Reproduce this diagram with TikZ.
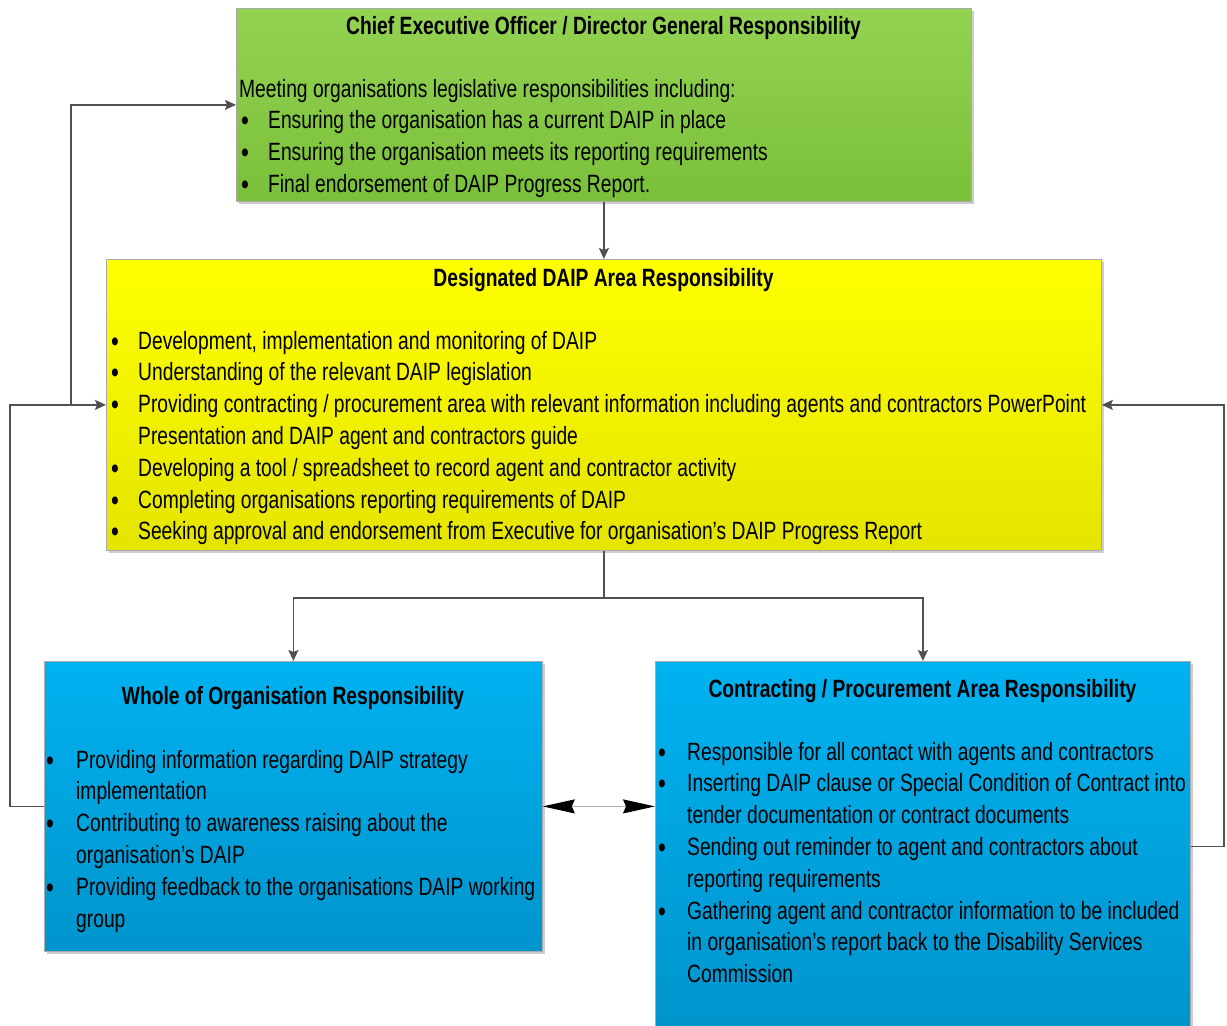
\documentclass[tikz,border=0pt]{standalone}
\usepackage{fontspec}
\setmainfont{Liberation Sans}[FakeStretch=0.77]
\usetikzlibrary{arrows.meta,calc}
\definecolor{conncol}{RGB}{80,80,80}
\definecolor{edgecol}{RGB}{170,170,170}
\definecolor{shadowcol}{RGB}{205,205,205}
\definecolor{greentop}{RGB}{148,210,82}
\definecolor{greenbot}{RGB}{122,192,58}
\definecolor{yellowtop}{RGB}{255,255,0}
\definecolor{yellowbot}{RGB}{228,228,0}
\definecolor{bluetop}{RGB}{0,178,240}
\definecolor{bluebot}{RGB}{0,148,204}
\newcommand\bodysize{\fontsize{25}{31.8}\selectfont}
\newcommand\bul{{\fontsize{29}{29}\selectfont\raisebox{-2pt}{\textbullet}}}
\newcommand\bitem[2]{\makebox[#1][l]{\bul}\mbox{#2}\par}
\newcommand\bcont[2]{\hspace*{#1}\mbox{#2}\par}
\tikzset{
  box/.style={draw=edgecol, line width=0.8pt, anchor=north west, inner sep=0pt},
  boxshadow/.style={fill=shadowcol, draw=none},
  ttl/.style={inner sep=0pt, anchor=base, font=\bfseries\bodysize},
  txt/.style={inner sep=0pt, anchor=base west},
  conn/.style={draw=conncol, line width=1.6pt, -{Stealth[length=11pt,width=10pt,inset=2pt]}},
  connplain/.style={draw=conncol, line width=1.6pt},
  dbl/.style={draw=black!30, line width=1pt, {Stealth[length=32pt,width=14pt,inset=3pt,black]}-{Stealth[length=32pt,width=14pt,inset=3pt,black]}}
}
\begin{document}
\begin{tikzpicture}[x=1pt,y=-1pt]
\useasboundingbox (0,0) rectangle (1227,1026);
\clip (0,0) rectangle (1227,1026);
\fill[white] (0,0) rectangle (1227,1026);
% shadows
\fill[boxshadow] (239,11) rectangle (974,204);
\fill[boxshadow] (109,262) rectangle (1104,553);
\fill[boxshadow] (47,664) rectangle (545,954);
\fill[boxshadow] (658,664) rectangle (1193,1040);
% boxes
\node[box, top color=greentop, bottom color=greenbot, minimum width=735pt, minimum height=193pt] (ceo) at (236,8) {};
\node[box, top color=yellowtop, bottom color=yellowbot, minimum width=995pt, minimum height=291pt] (daip) at (106,259) {};
\node[box, top color=bluetop, bottom color=bluebot, minimum width=498pt, minimum height=290pt] (whole) at (44,661) {};
\node[box, top color=bluetop, bottom color=bluebot, minimum width=535pt, minimum height=370pt] (contract) at (655,661) {};
% titles
\node[ttl] (ceotitle) at (603.5,34) {Chief Executive Officer / Director General Responsibility};
\node[ttl] (daiptitle) at (603.5,286) {Designated DAIP Area Responsibility};
\node[ttl] (wholetitle) at (293,704) {Whole of Organisation Responsibility};
\node[ttl] (contracttitle) at (922.5,697) {Contracting / Procurement Area Responsibility};
% body texts
\node[txt] (ceotext) at (241,97) {\begin{minipage}[t]{725pt}\bodysize
\hspace*{-2pt}\mbox{Meeting organisations legislative responsibilities including:}\par
\bitem{27pt}{Ensuring the organisation has a current DAIP in place}
\bitem{27pt}{Ensuring the organisation meets its reporting requirements}
\bitem{27pt}{Final endorsement of DAIP Progress Report.}
\end{minipage}};
\node[txt] (daiptext) at (111,349) {\begin{minipage}[t]{985pt}\bodysize
\bitem{27pt}{Development, implementation and monitoring of DAIP}
\bitem{27pt}{Understanding of the relevant DAIP legislation}
\bitem{27pt}{Providing contracting / procurement area with relevant information including agents and contractors PowerPoint}
\bcont{27pt}{Presentation and DAIP agent and contractors guide}
\bitem{27pt}{Developing a tool / spreadsheet to record agent and contractor activity}
\bitem{27pt}{Completing organisations reporting requirements of DAIP}
\bitem{27pt}{Seeking approval and endorsement from Executive for organisation’s DAIP Progress Report}
\end{minipage}};
\node[txt] (wholetext) at (46,768) {\begin{minipage}[t]{494pt}\bodysize
\bitem{30pt}{Providing information regarding DAIP strategy}
\bcont{30pt}{implementation}
\bitem{30pt}{Contributing to awareness raising about the}
\bcont{30pt}{organisation’s DAIP}
\bitem{30pt}{Providing feedback to the organisations DAIP working}
\bcont{30pt}{group}
\end{minipage}};
\node[txt] (contracttext) at (658,760) {\begin{minipage}[t]{530pt}\bodysize
\bitem{29pt}{Responsible for all contact with agents and contractors}
\bitem{29pt}{Inserting DAIP clause or Special Condition of Contract into}
\bcont{29pt}{tender documentation or contract documents}
\bitem{29pt}{Sending out reminder to agent and contractors about}
\bcont{29pt}{reporting requirements}
\bitem{29pt}{Gathering agent and contractor information to be included}
\bcont{29pt}{in organisation’s report back to the Disability Services}
\bcont{29pt}{Commission}
\end{minipage}};
% connectors
\coordinate (split) at ($(daip.south)+(0,47)$);
\coordinate (leftturn) at (10,0);
\coordinate (branch) at (71,0);
\coordinate (rightturn) at (1224,0);
\draw[conn] (ceo.south) -- (daip.north);
\draw[connplain] (daip.south) -- (split);
\draw[conn] (split) -| (whole.north);
\draw[conn] (split) -| (contract.north);
\draw[conn] (whole.west) -- (whole.west -| leftturn) -- (leftturn |- daip.west) -- (daip.west);
\draw[conn] (branch |- daip.west) -- (branch |- ceo.west) -- (ceo.west);
\draw[conn] (contract.east) -- (contract.east -| rightturn) -- (rightturn |- daip.east) -- (daip.east);
\draw[dbl] (whole.east) -- (whole.east -| contract.west);
\end{tikzpicture}
\end{document}
